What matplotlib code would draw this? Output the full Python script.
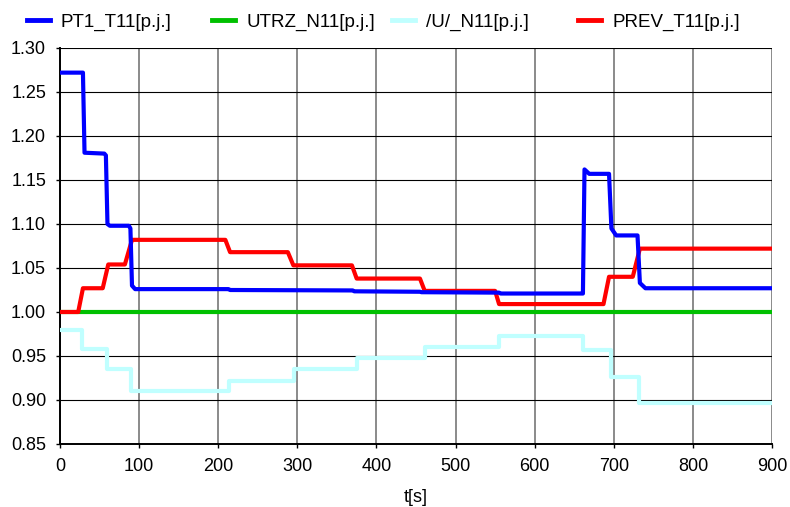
import numpy as np
import matplotlib.pyplot as plt
from matplotlib.lines import Line2D

plt.rcParams['font.family'] = ['Liberation Sans', 'DejaVu Sans']

# PT1_T11 (blue)
t_pt1 = [0, 29, 31, 56, 58, 60, 63, 87, 89, 91, 95, 213, 215, 370, 372, 455, 457, 555, 557,
         659, 661, 663, 669, 694, 697, 703, 730, 733, 740, 900]
v_pt1 = [1.272, 1.272, 1.181, 1.180, 1.178, 1.100, 1.098, 1.098, 1.095, 1.030, 1.026, 1.026, 1.025,
         1.0245, 1.0235, 1.023, 1.0225, 1.022, 1.021, 1.021, 1.021, 1.162, 1.157, 1.157, 1.095,
         1.087, 1.087, 1.033, 1.027, 1.027]

# UTRZ_N11 (green)
t_utrz = [0, 900]
v_utrz = [1.0, 1.0]

# /U/_N11 (cyan), step values
t_u = [0, 28, 60, 90, 213, 296, 376, 461, 555, 661, 696, 732, 900]
v_u = [0.980, 0.958, 0.935, 0.910, 0.922, 0.935, 0.948, 0.960, 0.973, 0.957, 0.926, 0.897, 0.897]

# PREV_T11 (red)
t_prev = [0, 23, 29, 54, 61, 82, 91, 209, 215, 288, 295, 369, 375, 455, 461, 550, 555,
          687, 694, 724, 733, 900]
v_prev = [1.0, 1.0, 1.027, 1.027, 1.054, 1.054, 1.082, 1.082, 1.068, 1.068, 1.053, 1.053,
          1.038, 1.038, 1.024, 1.024, 1.009, 1.009, 1.040, 1.040, 1.072, 1.072]

labels = ["PT1_T11[p.j.]", "UTRZ_N11[p.j.]", "/U/_N11[p.j.]", "PREV_T11[p.j.]"]
colors = ["#0000ff", "#00c000", "#c0ffff", "#ff0000"]

fig = plt.figure(figsize=(7.9, 5.07), dpi=100)
ax = fig.add_axes([60/790, 1-444/507, 712/790, 396/507])

lw = 3.0
ax.step(t_u, v_u, where='post', color=colors[2], lw=lw, zorder=3)
ax.plot(t_utrz, v_utrz, color=colors[1], lw=lw, zorder=3)
ax.plot(t_prev, v_prev, color=colors[3], lw=lw, zorder=3)
ax.plot(t_pt1, v_pt1, color=colors[0], lw=lw, zorder=4)

ax.set_xlim(0, 900)
ax.set_ylim(0.85, 1.30)
ax.set_xticks(np.arange(0, 901, 100))
ax.set_yticks(np.arange(0.85, 1.301, 0.05))
ax.set_yticklabels(["%.2f" % v for v in np.arange(0.85, 1.301, 0.05)])
ax.yaxis.grid(True, color='black', lw=0.8)
ax.xaxis.grid(True, color='#777777', lw=1.2)
ax.set_axisbelow(True)
for s in ['top', 'right']:
    ax.spines[s].set_visible(False)
for s in ['left', 'bottom']:
    ax.spines[s].set_linewidth(1.4)
ax.tick_params(direction='out', length=3, width=1, labelsize=13, pad=7)
ax.set_xlabel("t[s]", fontsize=13, labelpad=10)

# legend across the top
leg_x = [27, 212, 392, 578]
for x0, lab, c in zip(leg_x, labels, colors):
    fig.add_artist(Line2D([x0/790, (x0+23)/790], [1-20/507, 1-20/507], color=c, lw=3.5))
    fig.text((x0+34)/790, 1-27.3/507, lab, fontsize=13.5, va='baseline', ha='left')

fig.savefig("out.png", dpi=100)
